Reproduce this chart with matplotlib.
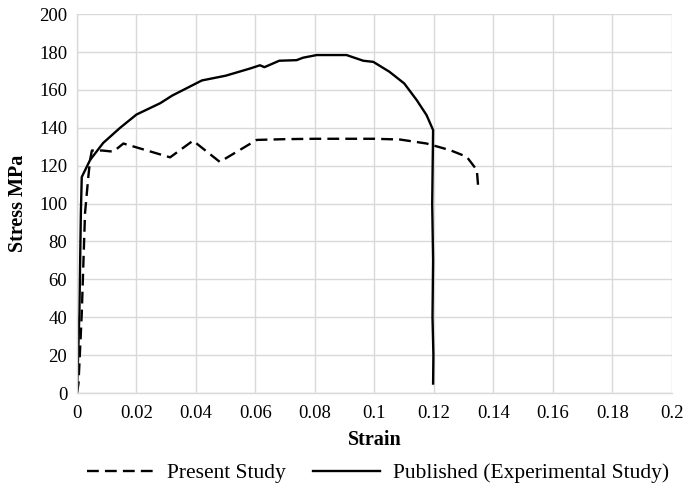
import matplotlib
matplotlib.use("Agg")
import matplotlib.pyplot as plt

# Present Study (dashed)
present_strain = [0.0, 0.0005, 0.0016, 0.0027, 0.0038, 0.0044, 0.005, 0.0085, 0.0122,
                  0.0156, 0.0313, 0.039, 0.048, 0.0604, 0.07, 0.08, 0.09, 0.1, 0.1086,
                  0.1175, 0.1254, 0.131, 0.1344, 0.1349]
present_stress = [0, 5, 42, 95, 114, 123, 128, 128, 127.4,
                  131.7, 124.4, 133.2, 122, 133.6, 134, 134.2, 134.2, 134.2, 133.8,
                  131.7, 128.2, 124.7, 117.7, 108]

# Published (Experimental Study) (solid)
published_strain = [0.0, 0.0008, 0.0013, 0.0016, 0.0044, 0.0088, 0.0145, 0.020, 0.028,
                    0.032, 0.042, 0.05, 0.0582, 0.0615, 0.063, 0.068, 0.0738, 0.076,
                    0.0806, 0.0906, 0.0962, 0.0996, 0.105, 0.110, 0.1142, 0.1175,
                    0.1197, 0.1194, 0.1197, 0.1195, 0.1198, 0.1197]
published_stress = [0, 42, 95, 114, 123, 132, 140, 147, 153,
                    157, 165, 167.5, 171.3, 173, 172, 175.4, 175.7, 177,
                    178.4, 178.4, 175.4, 174.8, 169.6, 163.4, 154.6, 146.7,
                    138.8, 100, 70, 40, 20, 5]

x_ticks = [0, 0.02, 0.04, 0.06, 0.08, 0.1, 0.12, 0.14, 0.16, 0.18, 0.2]
x_labels = ["0", "0.02", "0.04", "0.06", "0.08", "0.1", "0.12", "0.14", "0.16", "0.18", "0.2"]
y_ticks = list(range(0, 201, 20))

plt.rcParams['font.family'] = ['Liberation Serif', 'DejaVu Serif']

fig = plt.figure(figsize=(6.85, 4.87), dpi=100)
ax = fig.add_axes([0.1124, 0.193, 0.8686, 0.778])

ax.plot(present_strain, present_stress, color='black', lw=1.7, linestyle=(0, (5, 2.6)),
        label='Present Study')
ax.plot(published_strain, published_stress, color='black', lw=1.7,
        label='Published (Experimental Study)')

ax.set_xlim(0, 0.2)
ax.set_ylim(0, 200)
ax.set_xticks(x_ticks)
ax.set_xticklabels(x_labels)
ax.set_yticks(y_ticks)
ax.tick_params(length=0, labelsize=13.5)
ax.tick_params(axis='x', pad=8.5)
ax.tick_params(axis='y', pad=7)
ax.grid(True, color='#d9d9d9', lw=1)
ax.set_axisbelow(True)

for s in ['top', 'right']:
    ax.spines[s].set_visible(False)
for s in ['left', 'bottom']:
    ax.spines[s].set_color('#d9d9d9')
    ax.spines[s].set_linewidth(1)

ax.set_xlabel('Strain', fontsize=14.5, fontweight='bold', labelpad=6)
ax.set_ylabel('Stress MPa', fontsize=14.5, fontweight='bold', labelpad=8)

fig.legend(loc='center left', bbox_to_anchor=(0.127, 0.028), ncol=2, frameon=False,
           fontsize=15.5, handlelength=3.1, handletextpad=0.6, columnspacing=1.3,
           borderpad=0, borderaxespad=0)

fig.savefig('out.png', dpi=100)
